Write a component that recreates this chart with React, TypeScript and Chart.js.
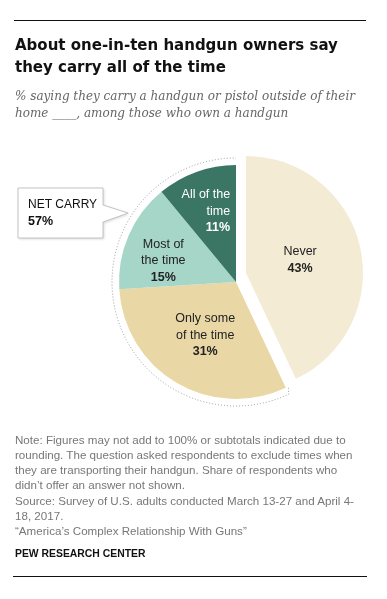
import React, { useEffect, useRef } from "react";
import { Chart, registerables } from "chart.js";

Chart.register(...registerables);

// ---- data ----
const categories = ["Never", "Only some of the time", "Most of the time", "All of the time"];
const values = [43, 31, 15, 11];
const labelLines = [["Never"], ["Only some", "of the time"], ["Most of", "the time"], ["All of the", "time"]];
const netCarryLabel = "NET CARRY";
const netCarryValue = 57;

const titleLines = ["About one-in-ten handgun owners say", "they carry all of the time"];
const subtitleLines = [
  "% saying they carry a handgun or pistol outside of their",
  "home ____, among those who own a handgun",
];
const noteLines = [
  "Note: Figures may not add to 100% or subtotals indicated due to",
  "rounding. The question asked respondents to exclude times when",
  "they are transporting their handgun. Share of respondents who",
  "didn\u2019t offer an answer not shown.",
  "Source: Survey of U.S. adults conducted March 13-27 and April 4-",
  "18, 2017.",
  "\u201cAmerica\u2019s Complex Relationship With Guns\u201d",
];
const sourceName = "PEW RESEARCH CENTER";

// ---- styles ----
const sliceColors = ["#f4ebd5", "#e9d8a5", "#a6d6c8", "#3b7665"];
const labelColors = ["#222222", "#222222", "#222222", "#ffffff"];
const labelAlign: CanvasTextAlign[] = ["center", "center", "center", "right"];
const labelTweak = [
  [-3, 0],
  [-1, 3],
  [-19, 2],
  [14, -15.5],
];
const explodeShift = [10, -9]; // pull-out of the "Never" slice

const FONT = '"Liberation Sans", Arial, sans-serif';

const piePlugin = {
  id: "pewPie",
  afterDatasetUpdate(chart: any, args: any) {
    if (args.index !== 0) return;
    const arc = chart.getDatasetMeta(0).data[0] as any;
    if (!arc) return;
    arc.x += explodeShift[0];
    arc.y += explodeShift[1];
  },
  afterDatasetsDraw(chart: any) {
    const ctx: CanvasRenderingContext2D = chart.ctx;
    const arcs = chart.getDatasetMeta(0).data as any[];
    if (!arcs.length) return;

    // dotted bracket around the "net carry" slices
    const first = arcs[1];
    const last = arcs[arcs.length - 1];
    const p = first.getProps(["x", "y", "outerRadius", "startAngle"], true);
    const e = last.getProps(["endAngle"], true);
    const R = p.outerRadius + 7;
    ctx.save();
    ctx.strokeStyle = "#9a9a9a";
    ctx.lineWidth = 1;
    ctx.setLineDash([1, 2]);
    ctx.beginPath();
    const a0 = p.startAngle;
    ctx.moveTo(p.x + Math.cos(a0 - 0.02) * (p.outerRadius + 1), p.y + Math.sin(a0 - 0.02) * (p.outerRadius + 1));
    ctx.arc(p.x, p.y, R, a0, e.endAngle);
    ctx.stroke();
    ctx.restore();

    // slice labels
    arcs.forEach((arc: any, i: number) => {
      const c = arc.getCenterPoint();
      const x = c.x + labelTweak[i][0];
      const lines = [...labelLines[i], values[i] + "%"];
      const lh = 16.5;
      const y0 = c.y + labelTweak[i][1] - ((lines.length - 1) * lh) / 2;
      ctx.save();
      ctx.fillStyle = labelColors[i];
      ctx.textAlign = labelAlign[i];
      ctx.textBaseline = "middle";
      lines.forEach((t, k) => {
        const bold = k === lines.length - 1;
        ctx.font = (bold ? "bold " : "") + "12.5px " + FONT;
        ctx.fillText(t, x, y0 + k * lh);
      });
      ctx.restore();
    });

    // NET CARRY callout
    const bx = 18, by = 188, bw = 85, bh = 50;
    const ang = Math.PI * 1.181;
    const tipX = p.x + Math.cos(ang) * (R + 4);
    const tipY = p.y + Math.sin(ang) * (R + 4);
    ctx.save();
    ctx.beginPath();
    ctx.moveTo(bx, by);
    ctx.lineTo(bx + bw, by);
    ctx.lineTo(bx + bw, by + 17);
    ctx.lineTo(tipX, tipY);
    ctx.lineTo(bx + bw, by + 34);
    ctx.lineTo(bx + bw, by + bh);
    ctx.lineTo(bx, by + bh);
    ctx.closePath();
    ctx.shadowColor = "rgba(0,0,0,0.18)";
    ctx.shadowBlur = 3;
    ctx.shadowOffsetX = 1;
    ctx.shadowOffsetY = 1;
    ctx.fillStyle = "#ffffff";
    ctx.fill();
    ctx.shadowColor = "transparent";
    ctx.strokeStyle = "#c4c4c4";
    ctx.lineWidth = 1;
    ctx.stroke();
    ctx.fillStyle = "#111";
    ctx.textAlign = "left";
    ctx.textBaseline = "middle";
    ctx.font = "12px " + FONT;
    ctx.fillText(netCarryLabel, bx + 10, by + 17);
    ctx.font = "bold 12.5px " + FONT;
    ctx.fillText(netCarryValue + "%", bx + 10, by + 34);
    ctx.restore();
  },
};

export default function App() {
  const canvasRef = useRef<HTMLCanvasElement | null>(null);

  useEffect(() => {
    if (!canvasRef.current) return;
    const chart = new Chart(canvasRef.current, {
      type: "pie",
      data: {
        labels: categories,
        datasets: [
          {
            data: values,
            backgroundColor: sliceColors,
            borderWidth: 0,
            radius: 117,
          } as any,
        ],
      },
      options: {
        animation: false,
        responsive: false,
        events: [],
        layout: { padding: { left: 119, right: 34, top: 165, bottom: 200 } },
        plugins: { legend: { display: false }, tooltip: { enabled: false } },
      },
      plugins: [piePlugin],
    });
    return () => chart.destroy();
  }, []);

  const abs = (top: number, extra: React.CSSProperties = {}): React.CSSProperties => ({
    position: "absolute",
    left: 15,
    top,
    margin: 0,
    whiteSpace: "nowrap",
    ...extra,
  });

  return (
    <div style={{ position: "fixed", left: 0, top: 0, width: 387, height: 599, background: "#fff", overflow: "hidden" }}>
      <canvas ref={canvasRef} width={387} height={599} style={{ position: "absolute", left: 0, top: 0, width: 387, height: 599 }} />
      <div style={{ position: "absolute", left: 14, top: 20, width: 352, height: 1, background: "#111" }} />
      <div
        style={abs(34, {
          fontFamily: '"DejaVu Sans", sans-serif',
          fontWeight: "bold",
          fontSize: 15,
          lineHeight: "22px",
          color: "#111",
        })}
      >
        {titleLines.map((t, i) => (
          <div key={i}>{t}</div>
        ))}
      </div>
      <div
        style={abs(87.5, {
          fontFamily: '"DejaVu Serif", Georgia, serif',
          fontStyle: "italic",
          fontSize: 12,
          lineHeight: "17px",
          color: "#666",
        })}
      >
        {subtitleLines.map((t, i) => (
          <div key={i}>{t}</div>
        ))}
      </div>
      <div style={abs(431.5, { fontFamily: FONT, fontSize: 11.6, lineHeight: "15.3px", color: "#777" })}>
        {noteLines.map((t, i) => (
          <div key={i}>{t}</div>
        ))}
      </div>
      <div style={abs(545.5, { fontFamily: FONT, fontWeight: "bold", fontSize: 10.4, lineHeight: "15px", color: "#111" })}>
        {sourceName}
      </div>
      <div style={{ position: "absolute", left: 13, top: 576, width: 354, height: 1, background: "#111" }} />
    </div>
  );
}
